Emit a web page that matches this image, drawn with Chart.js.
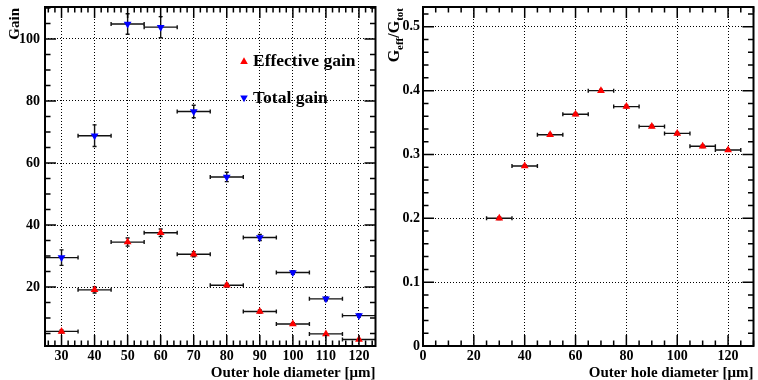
<!DOCTYPE html>
<html>
<head>
<meta charset="utf-8">
<script src="https://cdn.jsdelivr.net/npm/chart.js@4.4.1/dist/chart.umd.min.js"></script>
<style>
  html, body { margin: 0; padding: 0; background: #fff; }
  #wrap { position: relative; width: 758px; height: 380px; }
  #left-panel { position: absolute; left: 0; top: 0; }
  #right-panel { position: absolute; left: 380px; top: 0; }
</style>
</head>
<body>
<div id="wrap">
  <canvas id="left-panel" width="380" height="380"></canvas>
  <canvas id="right-panel" width="378" height="380"></canvas>
</div>
<script>
// Data
const diameters = [30, 40, 50, 60, 70, 80, 90, 100, 110, 120];
const diameterErr = [5, 5, 5, 5, 5, 5, 5, 5, 5, 5];
const totalGain = [29.5, 68.8, 104.8, 103.8, 76.6, 55.5, 36.0, 24.7, 16.2, 10.8];
const totalGainErr = [2.5, 3.5, 3.3, 3.4, 2.0, 1.5, 1.0, 0.6, 0.6, 0.5];
const effGain = [5.7, 19.1, 34.5, 37.5, 30.6, 20.6, 12.1, 8.1, 4.9, 3.1];
const effGainErr = [0.5, 1.0, 1.3, 1.2, 0.8, 0.6, 0.5, 0.4, 0.3, 0.3];
const gainRatio = [0.200, 0.282, 0.331, 0.363, 0.400, 0.375, 0.344, 0.333, 0.313, 0.307];
const gainRatioErr = [0.002, 0.002, 0.002, 0.002, 0.002, 0.002, 0.002, 0.002, 0.002, 0.002];

const leftXTicks = [30, 40, 50, 60, 70, 80, 90, 100, 110, 120];
const leftYTicks = [20, 40, 60, 80, 100];
const rightXTicks = [0, 20, 40, 60, 80, 100, 120];
const rightYTicks = [0, 0.1, 0.2, 0.3, 0.4, 0.5];

const FONT = '"Liberation Serif", "Times New Roman", serif';
const RED = '#ff0000';
const BLUE = '#0000ff';

function toPoints(xs, ys, xe, ye) {
    return xs.map((x, i) => ({ x: x, y: ys[i], xe: xe[i], ye: ye[i] }));
}

// Error bars with end caps, drawn under the markers
const errorBars = {
    id: 'errorBars',
    beforeDatasetsDraw(chart) {
        const ctx = chart.ctx;
        const xs = chart.scales.x, ys = chart.scales.y;
        const area = chart.chartArea;
        ctx.save();
        ctx.beginPath();
        ctx.rect(area.left, area.top, area.right - area.left, area.bottom - area.top);
        ctx.clip();
        ctx.strokeStyle = '#111';
        ctx.lineWidth = 1.4;
        chart.data.datasets.forEach(ds => {
            ds.data.forEach(p => {
                const px = xs.getPixelForValue(p.x);
                const py = ys.getPixelForValue(p.y);
                const x0 = xs.getPixelForValue(p.x - p.xe);
                const x1 = xs.getPixelForValue(p.x + p.xe);
                const y0 = ys.getPixelForValue(p.y - p.ye);
                const y1 = ys.getPixelForValue(p.y + p.ye);
                ctx.beginPath();
                ctx.moveTo(x0, py); ctx.lineTo(x1, py);
                ctx.moveTo(x0, py - 2); ctx.lineTo(x0, py + 2);
                ctx.moveTo(x1, py - 2); ctx.lineTo(x1, py + 2);
                if (Math.abs(y1 - y0) > 2) {
                    ctx.moveTo(px, y0); ctx.lineTo(px, y1);
                    ctx.moveTo(px - 2, y0); ctx.lineTo(px + 2, y0);
                    ctx.moveTo(px - 2, y1); ctx.lineTo(px + 2, y1);
                }
                ctx.stroke();
            });
        });
        ctx.restore();
    }
};

// ROOT-like frame with inward major/minor ticks on all four sides
const rootFrame = {
    id: 'rootFrame',
    afterDraw(chart, args, opts) {
        const ctx = chart.ctx;
        const a = chart.chartArea;
        const xs = chart.scales.x, ys = chart.scales.y;
        ctx.save();
        ctx.strokeStyle = '#000';
        ctx.lineWidth = 1.5;
        ctx.beginPath();
        for (let v = opts.xMinorStart; v <= xs.max + 1e-9; v += opts.xMinor) {
            const px = xs.getPixelForValue(v);
            const major = Math.abs((v - opts.xMajorBase) / opts.xMajor - Math.round((v - opts.xMajorBase) / opts.xMajor)) < 1e-6;
            const len = major ? 11 : 5.5;
            ctx.moveTo(px, a.bottom); ctx.lineTo(px, a.bottom - len);
            ctx.moveTo(px, a.top); ctx.lineTo(px, a.top + len);
        }
        for (let v = opts.yMinorStart; v <= ys.max + 1e-9; v += opts.yMinor) {
            const py = ys.getPixelForValue(v);
            const major = Math.abs(v / opts.yMajor - Math.round(v / opts.yMajor)) < 1e-6;
            const len = major ? 11 : 5.5;
            ctx.moveTo(a.left, py); ctx.lineTo(a.left + len, py);
            ctx.moveTo(a.right, py); ctx.lineTo(a.right - len, py);
        }
        ctx.stroke();
        ctx.lineWidth = 2;
        ctx.strokeRect(a.left, a.top, a.right - a.left, a.bottom - a.top);

        // axis titles
        ctx.fillStyle = '#000';
        ctx.font = 'bold 15px ' + FONT;
        ctx.textAlign = 'right';
        ctx.textBaseline = 'alphabetic';
        ctx.fillText('Outer hole diameter [\u03bcm]', a.right, 377);

        ctx.translate(opts.yTitleX, a.top);
        ctx.rotate(-Math.PI / 2);
        const parts = opts.yTitle;
        let total = 0;
        parts.forEach(p => {
            ctx.font = 'bold ' + p.size + 'px ' + FONT;
            total += ctx.measureText(p.text).width;
        });
        let cx = -total - 1;
        ctx.textAlign = 'left';
        parts.forEach(p => {
            ctx.font = 'bold ' + p.size + 'px ' + FONT;
            ctx.fillText(p.text, cx, p.dy);
            cx += ctx.measureText(p.text).width;
        });
        ctx.restore();
    }
};

// Legend of the left panel
const gainLegend = {
    id: 'gainLegend',
    afterDraw(chart) {
        const ctx = chart.ctx;
        ctx.save();
        const tri = (x, y, r, up, color) => {
            ctx.fillStyle = color;
            ctx.beginPath();
            if (up) {
                ctx.moveTo(x, y - r); ctx.lineTo(x + r, y + r * 0.8); ctx.lineTo(x - r, y + r * 0.8);
            } else {
                ctx.moveTo(x, y + r); ctx.lineTo(x + r, y - r * 0.8); ctx.lineTo(x - r, y - r * 0.8);
            }
            ctx.closePath();
            ctx.fill();
        };
        tri(244, 61, 3.8, true, RED);
        tri(244, 98.5, 3.8, false, BLUE);
        ctx.fillStyle = '#000';
        ctx.font = 'bold 17.5px ' + FONT;
        ctx.textAlign = 'left';
        ctx.textBaseline = 'alphabetic';
        ctx.fillText('Effective gain', 253, 66);
        ctx.fillText('Total gain', 253, 103);
        ctx.restore();
    }
};

function axisOptions(min, max, tickList, width, height, isX) {
    return {
        type: 'linear',
        position: isX ? 'bottom' : 'left',
        min: min,
        max: max,
        afterBuildTicks: scale => { scale.ticks = tickList.map(v => ({ value: v })); },
        afterFit: scale => {
            if (isX) {
                scale.height = height;
                scale.paddingLeft = 0;
                scale.paddingRight = 0;
            } else {
                scale.width = width;
                scale.paddingTop = 0;
                scale.paddingBottom = 0;
            }
        },
        ticks: {
            color: '#000',
            font: { family: FONT, size: 14, weight: 'bold' },
            padding: isX ? 2 : (width > 44 ? 5 : 3),
            maxRotation: 0,
            autoSkip: false,
            callback: v => String(Math.round(v * 100) / 100)
        },
        grid: {
            color: '#000',
            lineWidth: 1,
            drawTicks: false
        },
        border: { display: false, dash: [1, 2] }
    };
}

const baseOptions = {
    responsive: false,
    maintainAspectRatio: false,
    animation: false,
    plugins: { legend: { display: false }, tooltip: { enabled: false } }
};

new Chart(document.getElementById('left-panel').getContext('2d'), {
    type: 'scatter',
    data: {
        datasets: [
            {
                label: 'Effective gain',
                data: toPoints(diameters, effGain, diameterErr, effGainErr),
                pointStyle: 'triangle',
                pointRadius: 4.5,
                backgroundColor: RED,
                borderWidth: 0
            },
            {
                label: 'Total gain',
                data: toPoints(diameters, totalGain, diameterErr, totalGainErr),
                pointStyle: 'triangle',
                rotation: 180,
                pointRadius: 4.5,
                backgroundColor: BLUE,
                borderWidth: 0
            }
        ]
    },
    options: Object.assign({}, baseOptions, {
        layout: { padding: { top: 7, right: 2, left: 0, bottom: 0 } },
        scales: {
            x: axisOptions(25, 125, leftXTicks, 0, 34, true),
            y: axisOptions(1.0, 110.3, leftYTicks, 45, 0, false)
        },
        plugins: Object.assign({}, baseOptions.plugins, {
            rootFrame: {
                xMinorStart: 26, xMinor: 2, xMajor: 10, xMajorBase: 0,
                yMinorStart: 5, yMinor: 5, yMajor: 20,
                yTitleX: 19,
                yTitle: [{ text: 'Gain', size: 15, dy: 0 }]
            }
        })
    }),
    plugins: [errorBars, rootFrame, gainLegend]
});

new Chart(document.getElementById('right-panel').getContext('2d'), {
    type: 'scatter',
    data: {
        datasets: [
            {
                label: 'Geff/Gtot',
                data: toPoints(diameters, gainRatio, diameterErr, gainRatioErr),
                pointStyle: 'triangle',
                pointRadius: 4.5,
                backgroundColor: RED,
                borderWidth: 0
            }
        ]
    },
    options: Object.assign({}, baseOptions, {
        layout: { padding: { top: 7, right: 2, left: 0, bottom: 0 } },
        scales: {
            x: axisOptions(0, 130, rightXTicks, 0, 34, true),
            y: axisOptions(0, 0.531, rightYTicks, 43, 0, false)
        },
        plugins: Object.assign({}, baseOptions.plugins, {
            rootFrame: {
                xMinorStart: 5, xMinor: 5, xMajor: 20, xMajorBase: 0,
                yMinorStart: 0.02, yMinor: 0.02, yMajor: 0.1,
                yTitleX: 19,
                yTitle: [
                    { text: 'G', size: 16, dy: 0 },
                    { text: 'eff', size: 11, dy: 4 },
                    { text: '/G', size: 16, dy: 0 },
                    { text: 'tot', size: 11, dy: 4 }
                ]
            }
        })
    }),
    plugins: [errorBars, rootFrame]
});
</script>
</body>
</html>
